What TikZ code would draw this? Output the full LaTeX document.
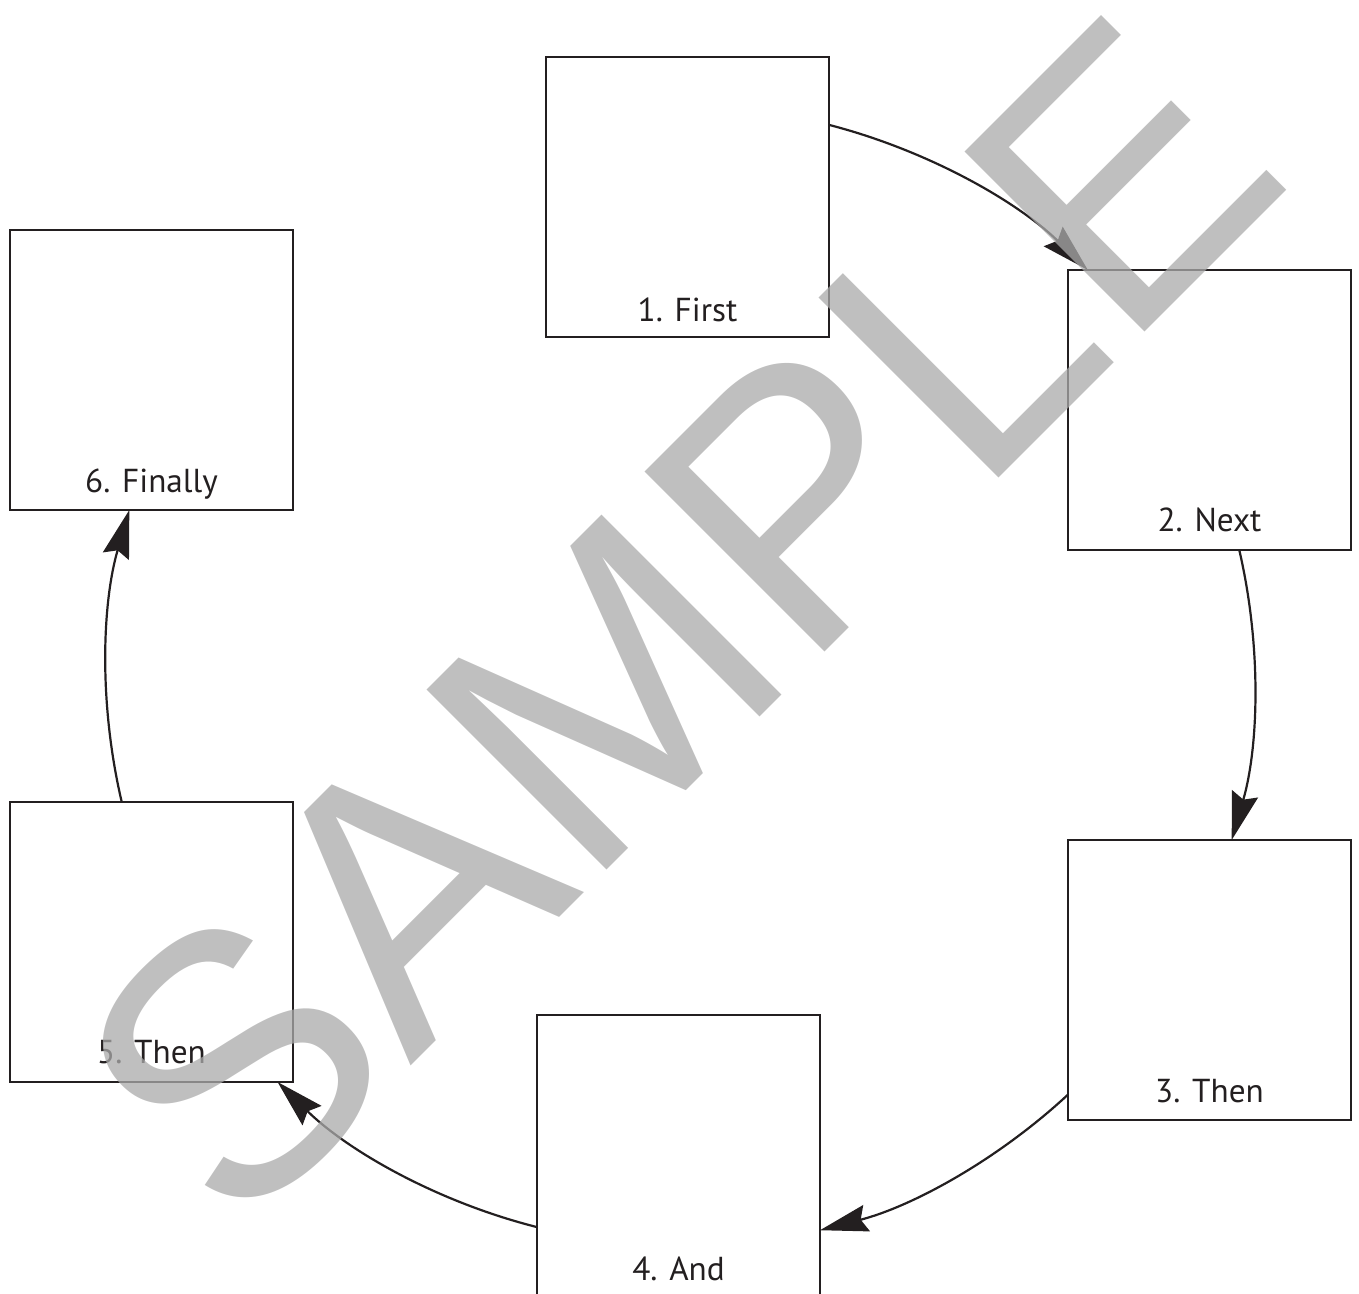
\documentclass[tikz,border=0pt]{standalone}
\usepackage{fontspec}
\setmainfont{PT Sans}
\newfontfamily\wmfont{Liberation Sans}
\usetikzlibrary{arrows.meta}
\definecolor{ink}{HTML}{231F20}
\definecolor{wmgray}{RGB}{170,170,170}
\begin{document}
\begin{tikzpicture}[x=0.5pt,y=0.5pt,
  box/.style={draw=ink, line width=1.45pt, rectangle, minimum width=141.5pt, minimum height=140pt, inner sep=0pt, outer sep=0pt},
  lbl/.style={anchor=base, text=ink, font=\fontsize{16.6pt}{19pt}\selectfont, inner sep=0pt},
  conn/.style={draw=ink, line width=1.1pt, -{Stealth[length=24pt,width=13.5pt,inset=3pt]}, looseness=0.866},
  wmark/.style={font=\wmfont\fontsize{185pt}{190pt}\selectfont, text=wmgray, text opacity=0.75, rotate=45, anchor=base, inner sep=0pt}
]
\useasboundingbox (0,0) rectangle (1359,1294);
\node[box] (b1) at (687.5,1097) {};
\node[box] (b2) at (1209.5,884) {};
\node[box] (b3) at (1209.5,314) {};
\node[box] (b4) at (678.5,139) {};
\node[box] (b5) at (151.5,352) {};
\node[box] (b6) at (151.5,924) {};
\node[lbl] (l1) at ([yshift=7.5pt]b1.south) {1. First};
\node[lbl] (l2) at ([yshift=9pt]b2.south) {2. Next};
\node[lbl] (l3) at ([yshift=8.5pt]b3.south) {3. Then};
\node[lbl] (l4) at ([yshift=7pt]b4.south) {4. And};
\node[lbl] (l5) at ([yshift=9pt]b5.south) {5. Then};
\node[lbl] (l6) at ([yshift=8.5pt]b6.south) {6. Finally};
\draw[conn] (b1.27.9) to[bend left=14.8] (b2.131.7);
\draw[conn] (b2.282.7) to[bend left=14.6] (b3.81.3);
\draw[conn] (b3.219.8) to[bend left=14.2] (b4.332.1);
\draw[conn] (b4.207.9) to[bend left=15.1] (b5.312.1);
\draw[conn] (b5.102.1) to[bend left=14.75] (b6.261.7);
\node[wmark] (wm) at (767,584) {SAMPLE};
\end{tikzpicture}
\end{document}
